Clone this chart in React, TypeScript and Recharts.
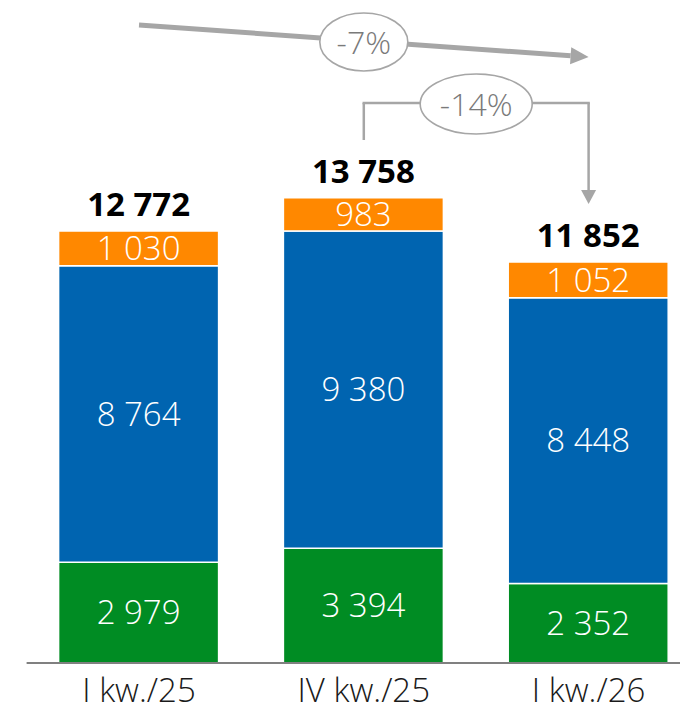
import React from 'react';
import { BarChart, Bar, XAxis, YAxis, LabelList, ReferenceLine } from 'recharts';

const categories = ['I kw./25', 'IV kw./25', 'I kw./26'];
const greenValues = [2979, 3394, 2352];
const blueValues = [8764, 9380, 8448];
const orangeValues = [1030, 983, 1052];
const totals = [12772, 13758, 11852];
const changeLabels = ['-7%', '-14%'];

// annotation levels, in data units
const trendStart = 18861;
const trendEnd = 17915;
const bracketFoot = 15461;
const bracketTop = 16555;
const bracketTip = 13569;

const data = categories.map((c, i) => ({
  name: c,
  green: greenValues[i],
  blue: blueValues[i],
  orange: orangeValues[i],
  total: totals[i],
}));

const FONT = '"Open Sans", "DejaVu Sans", sans-serif';
const GREY = '#a6a6a6';
const GREEN = '#008c23';
const BLUE = '#0064b0';
const ORANGE = '#ff8800';

const fmt = (v: number) => String(v).replace(/\B(?=(\d{3})+(?!\d))/g, ' ');

const centerLabel = (props: any) => {
  const vb = props.viewBox || props;
  const { x, y, width, height } = vb;
  return (
    <text
      x={x + width / 2}
      y={y + height / 2}
      dy="0.36em"
      textAnchor="middle"
      fill="#fff"
      fontSize={33}
      fontWeight={300}
      fontFamily={FONT}
    >
      {fmt(props.value)}
    </text>
  );
};

const totalLabel = (props: any) => {
  const vb = props.viewBox || props;
  const { x, y, width } = vb;
  return (
    <text
      x={x + width / 2}
      y={y - 15}
      textAnchor="middle"
      fill="#000"
      fontSize={33}
      fontWeight={700}
      fontFamily={FONT}
    >
      {fmt(props.value)}
    </text>
  );
};

const Bubble = ({ cx, cy, rx, ry, text }: any) => (
  <g>
    <ellipse cx={cx} cy={cy} rx={rx} ry={ry} fill="#fff" stroke={GREY} strokeWidth={1.6} />
    <text
      x={cx}
      y={cy}
      dy="0.36em"
      textAnchor="middle"
      fill="#7a7a7a"
      fontSize={32}
      fontWeight={300}
      fontFamily={FONT}
    >
      {text}
    </text>
  </g>
);

const arrowHead = (x1: number, y1: number, x2: number, y2: number, L: number, W: number) => {
  const dx = x2 - x1;
  const dy = y2 - y1;
  const len = Math.hypot(dx, dy) || 1;
  const ux = dx / len;
  const uy = dy / len;
  const bx = x2 - ux * L;
  const by = y2 - uy * L;
  return {
    bx,
    by,
    points: `${x2},${y2} ${bx - uy * W},${by + ux * W} ${bx + uy * W},${by - ux * W}`,
  };
};

const TrendShape = (p: any) => {
  const { x1, y1, x2, y2 } = p;
  const h = arrowHead(x1, y1, x2, y2, 18, 8.5);
  return (
    <g>
      <line x1={x1} y1={y1} x2={h.bx} y2={h.by} stroke={GREY} strokeWidth={5} />
      <polygon points={h.points} fill={GREY} />
      <Bubble cx={(x1 + x2) / 2} cy={(y1 + y2) / 2 + 1} rx={44} ry={29} text={changeLabels[0]} />
    </g>
  );
};

const PlainShape = (p: any) => {
  const { x1, y1, x2, y2 } = p;
  return <line x1={x1} y1={y1} x2={x2} y2={y2} stroke={GREY} strokeWidth={2.5} />;
};

const TopShape = (p: any) => {
  const { x1, y1, x2, y2 } = p;
  return (
    <g>
      <line x1={x1 - 1.25} y1={y1} x2={x2 + 1.25} y2={y2} stroke={GREY} strokeWidth={2.5} />
      <Bubble cx={(x1 + x2) / 2} cy={(y1 + y2) / 2 + 1} rx={56} ry={30} text={changeLabels[1]} />
    </g>
  );
};

const DownArrowShape = (p: any) => {
  const { x1, y1, x2, y2 } = p;
  const h = arrowHead(x1, y1, x2, y2, 14, 7.5);
  return (
    <g>
      <line x1={x1} y1={y1} x2={h.bx} y2={h.by} stroke={GREY} strokeWidth={2.5} />
      <polygon points={h.points} fill={GREY} />
    </g>
  );
};

const XTick = (props: any) => {
  const { x, y, payload } = props;
  return (
    <text
      x={x}
      y={y + 31}
      textAnchor="middle"
      fill="#1a1a1a"
      fontSize={33}
      fontWeight={300}
      fontFamily={FONT}
    >
      {payload.value}
    </text>
  );
};

export default function App() {
  return (
    <div
      style={{
        position: 'absolute',
        left: 0,
        top: 0,
        width: 680,
        height: 713,
        overflow: 'hidden',
        background: '#fff',
      }}
    >
      <BarChart
        width={710}
        height={713}
        data={data}
        margin={{ top: 0, right: 9, left: 26.6, bottom: 0 }}
        barSize={160}
      >
        <XAxis
          dataKey="name"
          height={50}
          tickLine={false}
          axisLine={{ stroke: '#808080', strokeWidth: 1.8 }}
          tick={<XTick />}
          interval={0}
        />
        <YAxis hide domain={[0, 19600]} />
        <Bar dataKey="green" stackId="a" fill={GREEN} stroke="#fff" strokeWidth={1.5} isAnimationActive={false}>
          <LabelList dataKey="green" content={centerLabel} />
        </Bar>
        <Bar dataKey="blue" stackId="a" fill={BLUE} stroke="#fff" strokeWidth={1.5} isAnimationActive={false}>
          <LabelList dataKey="blue" content={centerLabel} />
        </Bar>
        <Bar dataKey="orange" stackId="a" fill={ORANGE} stroke="#fff" strokeWidth={1.5} isAnimationActive={false}>
          <LabelList dataKey="orange" content={centerLabel} />
          <LabelList dataKey="total" content={totalLabel} />
        </Bar>
        <ReferenceLine
          segment={[
            { x: categories[0], y: trendStart },
            { x: categories[2], y: trendEnd },
          ]}
          shape={TrendShape}
        />
        <ReferenceLine
          segment={[
            { x: categories[1], y: bracketFoot },
            { x: categories[1], y: bracketTop },
          ]}
          shape={PlainShape}
        />
        <ReferenceLine
          segment={[
            { x: categories[2], y: bracketTop },
            { x: categories[2], y: bracketTip },
          ]}
          shape={DownArrowShape}
        />
        <ReferenceLine
          segment={[
            { x: categories[1], y: bracketTop },
            { x: categories[2], y: bracketTop },
          ]}
          shape={TopShape}
        />
      </BarChart>
    </div>
  );
}
